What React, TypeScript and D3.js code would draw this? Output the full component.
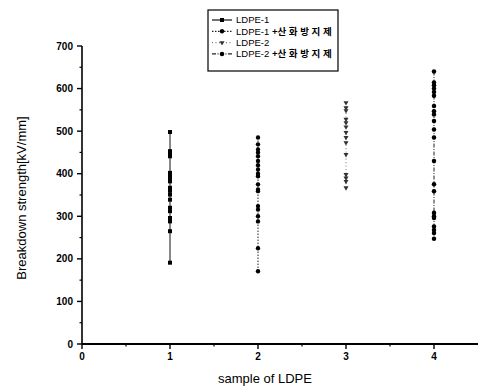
import { useEffect, useRef } from "react";
import * as d3 from "d3";

const SERIES_NAMES = ["LDPE-1", "LDPE-1 +산 화 방 지 제", "LDPE-2", "LDPE-2 +산 화 방 지 제"];
const SERIES_X = [1, 2, 3, 4];

const LDPE1 = [498, 453, 448, 441, 402, 396, 390, 382, 367, 360, 351, 339, 320, 312, 296, 288, 265, 191];
const LDPE1_AO = [485, 469, 457, 450, 441, 430, 420, 410, 400, 394, 375, 363, 359, 324, 316, 300, 288, 225, 171];
const LDPE2 = [567, 555, 548, 528, 520, 510, 497, 485, 473, 445, 398, 390, 382, 367];
const LDPE2_AO = [640, 614, 608, 600, 592, 583, 559, 547, 539, 524, 504, 485, 430, 375, 359, 308, 300, 296, 276, 268, 261, 247];

const Y_TICKS = [0, 100, 200, 300, 400, 500, 600, 700];
const X_TICKS = [0, 1, 2, 3, 4];

const W = 480;
const H = 391;

export default function App() {
  const svgRef = useRef<SVGSVGElement>(null);

  useEffect(() => {
    if (!svgRef.current) return;
    const svg = d3.select(svgRef.current);
    svg.selectAll("*").remove();

    const margin = { left: 82, right: 2, top: 46, bottom: 47 };
    const x = d3.scaleLinear().domain([0, 4.5]).range([margin.left, W - margin.right]);
    const y = d3.scaleLinear().domain([0, 700]).range([H - margin.bottom, margin.top]);

    const font = "'Liberation Sans', Arial, 'Noto Sans CJK KR', sans-serif";
    const allSeries = [LDPE1, LDPE1_AO, LDPE2, LDPE2_AO];
    const dashes = ["none", "1.5,1.5", "1,2.5", "4,1.5,1,1.5"];
    const strokes = ["#111", "#222", "#777", "#222"];
    const markers = [d3.symbolSquare, d3.symbolCircle, d3.symbolTriangle, d3.symbolCircle];
    const markerSize = [16, 15, 11, 16];
    const markerFill = ["#000", "#000", "#333", "#000"];

    // series
    allSeries.forEach((vals, i) => {
      const g = svg.append("g");
      const line = d3.line<number>().x(() => x(SERIES_X[i])).y((d) => y(d));
      g.append("path")
        .attr("d", line(vals))
        .attr("fill", "none")
        .attr("stroke", strokes[i])
        .attr("stroke-width", 1)
        .attr("stroke-dasharray", dashes[i]);
      g.selectAll("path.m")
        .data(vals)
        .join("path")
        .attr("class", "m")
        .attr("d", d3.symbol().type(markers[i]).size(markerSize[i])())
        .attr("transform", (d) => `translate(${x(SERIES_X[i])},${y(d)})${i === 2 ? " rotate(180)" : ""}`)
        .attr("fill", markerFill[i]);
    });

    // axes
    const ax = svg.append("g").attr("stroke", "#000");
    ax.append("line")
      .attr("x1", x(0)).attr("x2", x(0)).attr("y1", y(700)).attr("y2", y(0))
      .attr("stroke-width", 1.6);
    ax.append("line")
      .attr("x1", x(0)).attr("x2", x(4.5)).attr("y1", y(0)).attr("y2", y(0))
      .attr("stroke-width", 1.8);

    // y ticks
    ax.selectAll("line.ym")
      .data(Y_TICKS)
      .join("line")
      .attr("class", "ym")
      .attr("x1", x(0) - 5).attr("x2", x(0))
      .attr("y1", (d) => y(d)).attr("y2", (d) => y(d))
      .attr("stroke-width", 1.4);
    ax.selectAll("line.yn")
      .data(d3.range(50, 700, 100))
      .join("line")
      .attr("class", "yn")
      .attr("x1", x(0) - 2.5).attr("x2", x(0))
      .attr("y1", (d) => y(d)).attr("y2", (d) => y(d))
      .attr("stroke-width", 1.2);
    svg.append("g")
      .selectAll("text")
      .data(Y_TICKS)
      .join("text")
      .attr("x", x(0) - 9)
      .attr("y", (d) => y(d))
      .attr("dy", "0.35em")
      .attr("text-anchor", "end")
      .style("font-family", font)
      .style("font-size", "10px")
      .style("font-weight", "bold")
      .text((d) => d);

    // x ticks
    ax.selectAll("line.xm")
      .data(X_TICKS)
      .join("line")
      .attr("class", "xm")
      .attr("x1", (d) => x(d)).attr("x2", (d) => x(d))
      .attr("y1", y(0)).attr("y2", y(0) + 5)
      .attr("stroke-width", 1.4);
    ax.selectAll("line.xn")
      .data([0.5, 1.5, 2.5, 3.5])
      .join("line")
      .attr("class", "xn")
      .attr("x1", (d) => x(d)).attr("x2", (d) => x(d))
      .attr("y1", y(0)).attr("y2", y(0) + 2.5)
      .attr("stroke-width", 1.2);
    svg.append("g")
      .selectAll("text")
      .data(X_TICKS)
      .join("text")
      .attr("x", (d) => x(d))
      .attr("y", y(0) + 16)
      .attr("text-anchor", "middle")
      .style("font-family", font)
      .style("font-size", "10px")
      .style("font-weight", "bold")
      .text((d) => d);

    // axis titles
    svg.append("text")
      .attr("x", 265)
      .attr("y", 383)
      .attr("text-anchor", "middle")
      .style("font-family", font)
      .style("font-size", "13px")
      .text("sample of LDPE");
    svg.append("text")
      .attr("transform", `translate(26,${y(350) + 3}) rotate(-90)`)
      .attr("text-anchor", "middle")
      .style("font-family", font)
      .style("font-size", "13px")
      .text("Breakdown strength[kV/mm]");

    // legend
    const lg = svg.append("g").attr("transform", "translate(208,10)");
    lg.append("rect")
      .attr("width", 130).attr("height", 61)
      .attr("fill", "#fff").attr("stroke", "#000").attr("stroke-width", 1.2);
    SERIES_NAMES.forEach((name, i) => {
      const ry = 10 + i * 11.3;
      lg.append("line")
        .attr("x1", 4).attr("x2", 24).attr("y1", ry).attr("y2", ry)
        .attr("stroke", strokes[i]).attr("stroke-width", 1.2)
        .attr("stroke-dasharray", dashes[i]);
      lg.append("path")
        .attr("d", d3.symbol().type(markers[i]).size(markerSize[i])())
        .attr("transform", `translate(14,${ry})${i === 2 ? " rotate(180)" : ""}`)
        .attr("fill", markerFill[i]);
      const [base, ...rest] = name.split(" ");
      const t = lg.append("text")
        .attr("x", 28).attr("y", ry).attr("dy", "0.35em")
        .style("font-family", font)
        .style("font-size", "9.5px");
      t.append("tspan").text(base);
      if (rest.length) {
        t.append("tspan").style("font-weight", "bold").text(" " + rest.join(" "));
      }
    });
  }, []);

  return (
    <div style={{ position: "absolute", left: 0, top: 0, width: W, height: H, background: "#fff" }}>
      <svg ref={svgRef} width={W} height={H} />
    </div>
  );
}
